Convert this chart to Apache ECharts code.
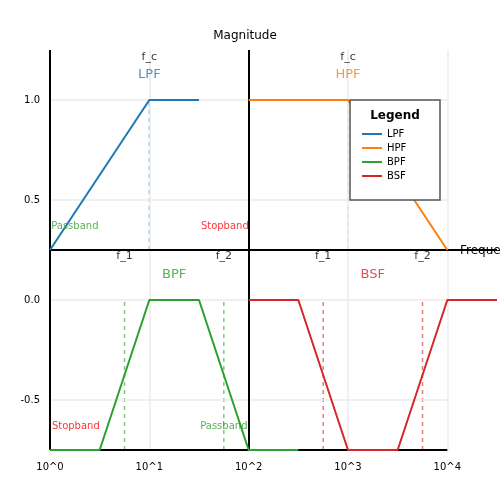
<!DOCTYPE html>
<html><head><meta charset="utf-8">
<script src="https://cdn.jsdelivr.net/npm/echarts@6/dist/echarts.min.js"></script>
<style>html,body{margin:0;padding:0;background:#fff}#c{width:500px;height:500px}</style>
</head><body><div id="c"></div>
<script>
// x values are log10(frequency)
const lpfX = [0, 1, 1.5];
const lpfY = [0.25, 1.0, 1.0];
const hpfX = [2, 3, 4];
const hpfY = [1.0, 1.0, 0.25];
const bpfX = [0, 0.5, 1, 1.5, 2, 2.5];
const bpfY = [-0.75, -0.75, 0.0, 0.0, -0.75, -0.75];
const bsfX = [2, 2.5, 3, 3.5, 4, 4.5];
const bsfY = [0.0, 0.0, -0.75, -0.75, 0.0, 0.0];
const yTicks = [1.0, 0.5, 0.0, -0.5];
const xTicks = [0, 1, 2, 3, 4];
const dashLines = [
  {x: 1, y0: 0.25, y1: 1.0, c: 'rgba(31,119,180,0.6)'},
  {x: 3, y0: 0.25, y1: 1.0, c: 'rgba(255,127,14,0.6)'},
  {x: 0.75, y0: -0.75, y1: 0.0, c: 'rgba(44,160,44,0.6)'},
  {x: 1.75, y0: -0.75, y1: 0.0, c: 'rgba(44,160,44,0.6)'},
  {x: 2.75, y0: -0.75, y1: 0.0, c: 'rgba(214,39,40,0.6)'},
  {x: 3.75, y0: -0.75, y1: 0.0, c: 'rgba(214,39,40,0.6)'}
];
const texts = [
  {x: 1, y: 1.215, t: 'f_c', c: '#000', s: 11},
  {x: 3, y: 1.215, t: 'f_c', c: '#000', s: 11},
  {x: 1, y: 1.125, t: 'LPF', c: '#1f77b4', s: 13},
  {x: 3, y: 1.125, t: 'HPF', c: '#ff7f0e', s: 13},
  {x: 0.25, y: 0.37, t: 'Passband', c: '#2ca02c', s: 10},
  {x: 1.76, y: 0.37, t: 'Stopband', c: '#ff0000', s: 10},
  {x: 0.75, y: 0.22, t: 'f_1', c: '#000', s: 11},
  {x: 1.75, y: 0.22, t: 'f_2', c: '#000', s: 11},
  {x: 2.75, y: 0.22, t: 'f_1', c: '#000', s: 11},
  {x: 3.75, y: 0.22, t: 'f_2', c: '#000', s: 11},
  {x: 1.25, y: 0.125, t: 'BPF', c: '#2ca02c', s: 13},
  {x: 3.25, y: 0.125, t: 'BSF', c: '#d62728', s: 13},
  {x: 0.26, y: -0.63, t: 'Stopband', c: '#ff0000', s: 10},
  {x: 1.75, y: -0.63, t: 'Passband', c: '#2ca02c', s: 10}
];
const chart = echarts.init(document.getElementById('c'));
const mk = (name, xs, ys, color) => ({
  name, type: 'line', data: xs.map((x, i) => [x, ys[i]]), symbol: 'none',
  lineStyle: {color, width: 2}, itemStyle: {color}, z: 5, animation: false
});
const series = [
  mk('LPF', lpfX, lpfY, '#1f77b4'),
  mk('HPF', hpfX, hpfY, '#ff7f0e'),
  mk('BPF', bpfX, bpfY, '#2ca02c'),
  mk('BSF', bsfX, bsfY, '#d62728')
];
dashLines.forEach(d => series.push({type: 'line', data: [[d.x, d.y0], [d.x, d.y1]], symbol: 'none',
  lineStyle: {color: d.c, width: 1.5, type: [4, 4]}, z: 4, animation: false}));
// grid and axis frame lines
const grey = {color: '#ebebeb', width: 1.5, type: 'solid'};
const blk = {color: '#000', width: 2, type: 'solid'};
const seg = (a, b, st) => [{coord: a, lineStyle: st}, {coord: b}];
const mlData = [];
yTicks.forEach(v => mlData.push(seg([0, v], [4, v], grey)));
xTicks.forEach(v => mlData.push(seg([v, -0.75], [v, 1.25], grey)));
const mlAxis = [
  seg([0, -0.75], [0, 1.25], blk), seg([2, -0.75], [2, 1.25], blk),
  seg([0, 0.25], [4.5, 0.25], blk), seg([0, -0.75], [4, -0.75], blk)
];
series.push({type: 'line', data: [], markLine: {silent: true, symbol: 'none', label: {show: false}, data: mlData, animation: false}, z: 1});
series.push({type: 'line', data: [], markLine: {silent: true, symbol: 'none', label: {show: false}, data: mlAxis, animation: false}, z: 6});
series.push({type: 'scatter', symbolSize: 0, z: 7, animation: false,
  data: texts.map(t => ({value: [t.x, t.y], label: {show: true, position: 'inside', formatter: t.t, color: t.c, fontSize: t.s, fontFamily: 'DejaVu Sans'}}))});
chart.setOption({
  animation: false,
  textStyle: {fontFamily: 'DejaVu Sans'},
  grid: {left: 50, right: 0, top: 50, bottom: 50},
  xAxis: {type: 'value', min: 0, max: 4.5, interval: 0.5,
    axisLine: {show: false}, axisTick: {show: false}, splitLine: {show: false},
    axisLabel: {color: '#000', fontSize: 10, margin: 12, formatter: v => Number.isInteger(v) && v <= 4 ? '10^' + v : ''}},
  yAxis: {type: 'value', min: -0.75, max: 1.25, interval: 0.25,
    axisLine: {show: false}, axisTick: {show: false}, splitLine: {show: false},
    axisLabel: {color: '#000', fontSize: 10, margin: 10, formatter: v => (Math.abs(v * 2 - Math.round(v * 2)) < 1e-9 && v <= 1 && v >= -0.5) ? v.toFixed(1) : ''}},
  legend: {data: ['LPF', 'HPF', 'BPF', 'BSF'], orient: 'vertical', left: 357, top: 124, itemGap: 4,
    itemWidth: 20, itemHeight: 2, icon: 'rect', textStyle: {fontSize: 10, color: '#000'}, z: 21},
  graphic: [
    {type: 'rect', shape: {x: 350, y: 100, width: 90, height: 100}, style: {fill: '#fff', stroke: '#555', lineWidth: 1.5}, z: 20},
    {type: 'text', x: 395, y: 116, style: {text: 'Legend', fontSize: 12, fontWeight: 'bold', fill: '#000', align: 'center', verticalAlign: 'middle', fontFamily: 'DejaVu Sans'}, z: 21},
    {type: 'text', x: 245, y: 36, style: {text: 'Magnitude', fontSize: 12, fill: '#000', align: 'center', verticalAlign: 'middle', fontFamily: 'DejaVu Sans'}, z: 21},
    {type: 'text', x: 460, y: 251, style: {text: 'Frequency', fontSize: 12, fill: '#000', align: 'left', verticalAlign: 'middle', fontFamily: 'DejaVu Sans'}, z: 21}
  ],
  series
});
</script></body></html>
